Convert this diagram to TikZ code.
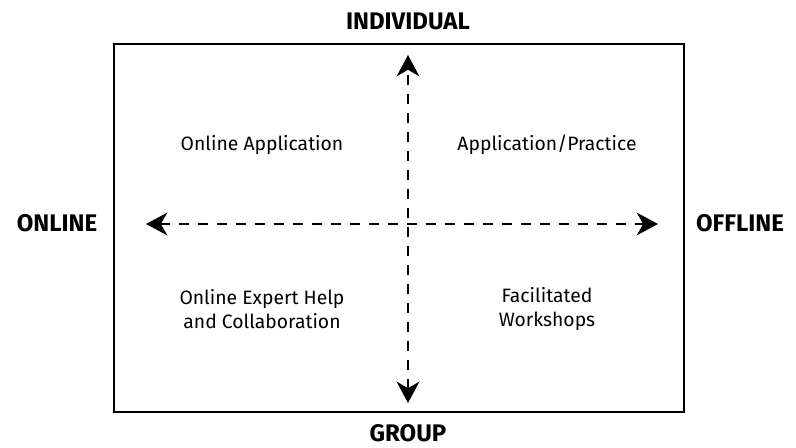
\documentclass[tikz,border=0pt]{standalone}
\usepackage{fontspec}
\setmainfont{Fira Sans}
\usetikzlibrary{arrows.meta}
\begin{document}
\begin{tikzpicture}[x=0.75pt,y=-0.75pt,
  tip/.style={Stealth[length=16pt,width=17pt,inset=5pt]},
  axis/.style={line width=2.2pt, dash pattern=on 7.5pt off 6.75pt, {Stealth[length=16pt,width=17pt,inset=5pt]}-{Stealth[length=16pt,width=17pt,inset=5pt]}},
  head/.style={font=\bfseries\fontsize{18}{20}\selectfont},
  quad/.style={font=\fontsize{14.5}{17.5}\selectfont, align=center}]
\useasboundingbox (0,0) rectangle (796,448);
\draw[line width=2.2pt] (114,44) rectangle (684,412);
\node[head] (ind) at (408,21) {INDIVIDUAL};
\node[head] (grp) at (408,433) {GROUP};
\node[head] (onl) at (57,223) {ONLINE};
\node[head] (off) at (740,223) {OFFLINE};
\coordinate (vt) at (408,55);
\coordinate (vb) at (408,403);
\coordinate (hl) at (146,224);
\coordinate (hr) at (658,224);
\draw[axis] (vb) -- (vt);
\draw[axis] (hl) -- (hr);
\node[quad] (q1) at (262,145) {Online Application};
\node[quad] (q2) at (547,145) {Application/Practice};
\node[quad] (q3) at (262,309) {Online Expert Help\\and Collaboration};
\node[quad] (q4) at (547,309) {Facilitated\\Workshops};
\end{tikzpicture}
\end{document}
